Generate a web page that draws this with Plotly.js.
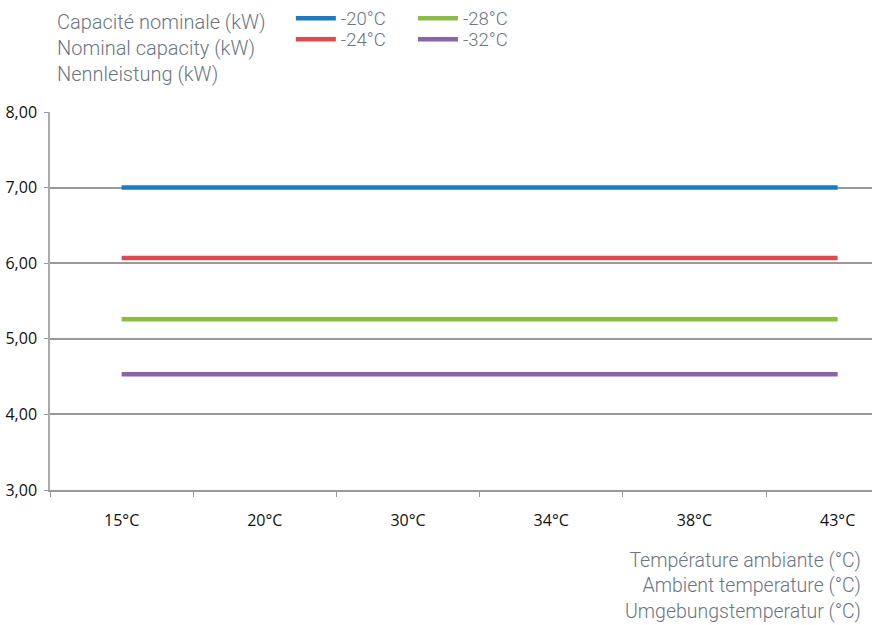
<!DOCTYPE html>
<html><head><meta charset="utf-8">
<script src="https://cdn.plot.ly/plotly-3.0.1.min.js"></script>
<style>body{margin:0;background:#fff}#c{width:875px;height:625px}</style>
</head><body><div id="c"></div>
<script>
const categories = ["15°C","20°C","30°C","34°C","38°C","43°C"];
const s20 = [7.00,7.00,7.00,7.00,7.00,7.00];
const s24 = [6.07,6.07,6.07,6.07,6.07,6.07];
const s28 = [5.26,5.26,5.26,5.26,5.26,5.26];
const s32 = [4.53,4.53,4.53,4.53,4.53,4.53];
const seriesNames = ["-20°C","-24°C","-28°C","-32°C"];
const colors = ["#1b7cc1","#e0484d","#8bbd46","#8b63a9"];
const legendIds = ["legend","legend2","legend3","legend4"];
const data = [s20,s24,s28,s32].map((v,i)=>({
  x: categories, y: v, type:"scatter", mode:"lines", name: seriesNames[i],
  line:{color:colors[i], width:4.5}, legend: legendIds[i]
}));
const grey = "#6b7585";
const lfont = {family:"Roboto, 'Noto Sans', sans-serif", size:18.5, color:grey, weight:300};
const afont = {family:"Roboto, 'Noto Sans', sans-serif", size:20, color:grey, weight:300};
const bfont = {family:"Roboto, 'Noto Sans', sans-serif", size:19.5, color:grey, weight:300};
const tfont = {family:"'Open Sans', Roboto, sans-serif", size:16, color:"#111", stretch:"condensed"};
const legPos = [[0.293,0.970],[0.293,0.9365],[0.4416,0.970],[0.4416,0.9365]];
const layout = {
  width:875, height:625,
  margin:{l:50, r:3, t:112, b:135},
  paper_bgcolor:"#fff", plot_bgcolor:"#fff",
  separators:",.",
  showlegend:true,
  xaxis:{type:"category", range:[-0.5,5.24], tickson:"boundaries", ticks:"outside", ticklen:5,
    tickcolor:"#999", showgrid:false, showline:true, linecolor:"#999", linewidth:1.5,
    tickfont:tfont, ticklabelstandoff:15, zeroline:false},
  yaxis:{range:[3,8], dtick:1, tickformat:".2f", ticks:"outside", ticklen:4, tickcolor:"#999",
    showgrid:true, gridcolor:"#999", gridwidth:1.5, showline:true, linecolor:"#aaa", linewidth:1.5,
    tickfont:tfont, zeroline:false, ticklabelstandoff:4},
  annotations:[
   {text:"Capacité nominale (kW)<br>Nominal capacity (kW)<br>Nennleistung (kW)",
    xref:"paper", yref:"paper", x:0, xshift:5, y:1, yshift:104, xanchor:"left", yanchor:"top", align:"left",
    showarrow:false, font:afont},
   {text:"Température ambiante (°C)<br>Ambient temperature (°C)<br>Umgebungstemperatur (°C)",
    xref:"paper", yref:"paper", x:1, y:0, yshift:-57, xanchor:"right", yanchor:"top", align:"right",
    showarrow:false, font:bfont, xshift:-9}]
};
legendIds.forEach((id,i)=>{
  layout[id] = {x:legPos[i][0], xref:"paper", y:legPos[i][1], yref:"container", xanchor:"left", yanchor:"middle",
    font:lfont, bgcolor:"rgba(0,0,0,0)", itemwidth:40};
});
Plotly.newPlot("c", data, layout, {displayModeBar:false});
</script></body></html>
